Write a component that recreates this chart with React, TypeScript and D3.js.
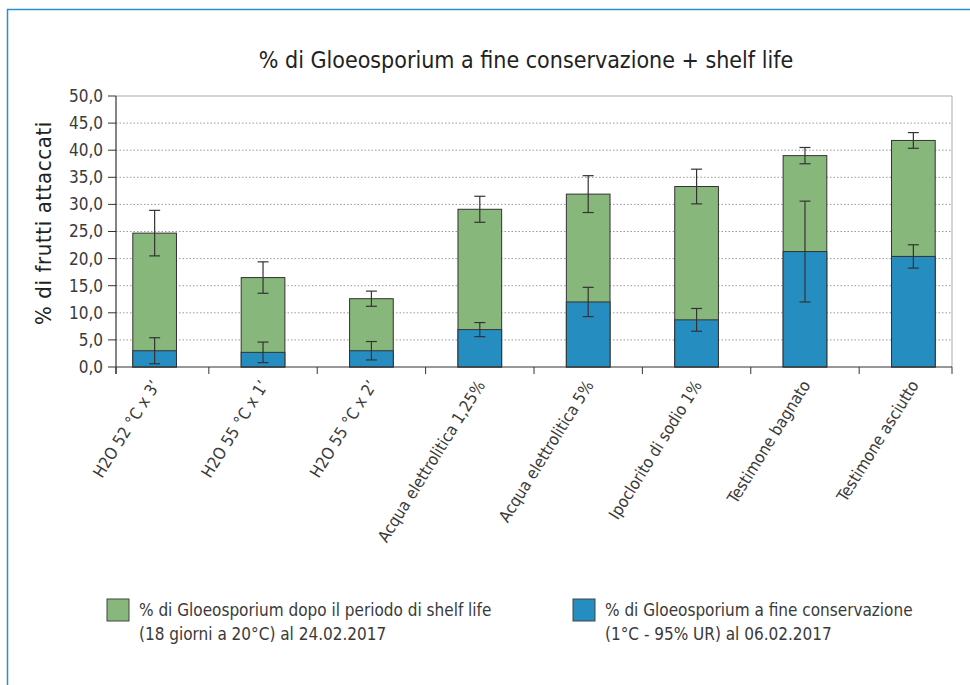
import React from "react";
import * as d3 from "d3";

const categories = [
  "H2O 52 °C x 3’",
  "H2O 55 °C x 1’",
  "H2O 55 °C x 2’",
  "Acqua elettrolitica 1,25%",
  "Acqua elettrolitica 5%",
  "Ipoclorito di sodio 1%",
  "Testimone bagnato",
  "Testimone asciutto",
];
// % a fine conservazione (blue, bottom)
const conservazione = [3.0, 2.7, 3.0, 6.9, 12.0, 8.7, 21.3, 20.4];
const errConservazione = [2.4, 1.9, 1.7, 1.3, 2.7, 2.1, 9.3, 2.15];
// % dopo shelf life (total height of the stack)
const shelfLife = [24.7, 16.5, 12.6, 29.1, 31.9, 33.3, 39.0, 41.8];
const errShelfLife = [4.2, 2.9, 1.4, 2.4, 3.4, 3.2, 1.5, 1.45];
const yTicks = [0, 5, 10, 15, 20, 25, 30, 35, 40, 45, 50];

const legendItems = [
  { color: "#88b77b", lines: ["% di Gloeosporium dopo il periodo di shelf life", "(18 giorni a 20°C) al 24.02.2017"] },
  { color: "#268dc1", lines: ["% di Gloeosporium a fine conservazione", "(1°C - 95% UR) al 06.02.2017"] },
];

const FONT = "'Liberation Sans Narrow', 'DejaVu Sans Condensed', 'Roboto', sans-serif";
const GREEN = "#88b77b";
const BLUE = "#268dc1";
const INK = "#333";
const TEXT = "#3a3a3a";

export default function App() {
  const left = 116, right = 952, top = 96, bottom = 367;

  const x = d3.scaleBand<string>()
    .domain(categories)
    .range([left, right])
    .paddingInner(0.597)
    .paddingOuter(0.155);
  const y = d3.scaleLinear().domain([0, 50]).range([bottom, top]);
  const bw = x.bandwidth();
  const step = x.step();
  const cx = (c: string) => (x(c) as number) + bw / 2;

  // category separator ticks between bars, plus the axis ends
  const sepTicks = [left, ...categories.slice(1).map((c) => cx(c) - step / 2), right];

  const errBar = (c: string, v: number, e: number, key: string) => {
    const xc = cx(c);
    return (
      <g key={key} stroke={INK} strokeWidth={1.2}>
        <line x1={xc} x2={xc} y1={y(v + e)} y2={y(Math.max(0, v - e))} />
        <line x1={xc - 5.5} x2={xc + 5.5} y1={y(v + e)} y2={y(v + e)} />
        <line x1={xc - 5.5} x2={xc + 5.5} y1={y(Math.max(0, v - e))} y2={y(Math.max(0, v - e))} />
      </g>
    );
  };

  return (
    <svg width={970} height={685} style={{ position: "absolute", left: 0, top: 0, background: "#fff" }} fontFamily={FONT}>
      {/* frame */}
      <line x1={7} x2={970} y1={9.5} y2={9.5} stroke="#2a8fcf" strokeWidth={1.5} />
      <line x1={7.5} x2={7.5} y1={9} y2={685} stroke="#2a8fcf" strokeWidth={1.5} />

      <text x={526} y={68} textAnchor="middle" fontSize={23} fill="#222">
        % di Gloeosporium a fine conservazione + shelf life
      </text>

      {/* gridlines */}
      {yTicks.filter((t) => t > 0 && t < 50).map((t) => (
        <line key={t} x1={left} x2={right} y1={y(t)} y2={y(t)} stroke="#999" strokeWidth={1} strokeDasharray="1.5,2" />
      ))}
      <line x1={left} x2={right} y1={y(50)} y2={y(50)} stroke="#aaa" strokeWidth={1} />
      <line x1={right} x2={right} y1={y(50)} y2={bottom} stroke="#aaa" strokeWidth={1} />

      {/* bars */}
      {categories.map((c, i) => (
        <g key={c}>
          <rect x={x(c)} y={y(shelfLife[i])} width={bw} height={bottom - y(shelfLife[i])} fill={GREEN} stroke={INK} strokeWidth={1} />
          <rect x={x(c)} y={y(conservazione[i])} width={bw} height={bottom - y(conservazione[i])} fill={BLUE} stroke={INK} strokeWidth={1} />
        </g>
      ))}
      {categories.map((c, i) => errBar(c, shelfLife[i], errShelfLife[i], "s" + i))}
      {categories.map((c, i) => errBar(c, conservazione[i], errConservazione[i], "c" + i))}

      {/* y axis */}
      <line x1={left} x2={left} y1={top} y2={bottom + 7} stroke={INK} strokeWidth={1.2} />
      {yTicks.map((t) => (
        <g key={t}>
          <line x1={left - 8} x2={left} y1={y(t)} y2={y(t)} stroke={INK} strokeWidth={1} />
          <text x={left - 13} y={y(t)} dy="0.35em" textAnchor="end" fontSize={17} fill={TEXT}>
            {d3.format(".1f")(t).replace(".", ",")}
          </text>
        </g>
      ))}
      <text transform={`translate(51,223) rotate(-90)`} textAnchor="middle" fontSize={22} fill="#222" letterSpacing={0.6}>
        % di frutti attaccati
      </text>

      {/* x axis */}
      <line x1={left} x2={right} y1={bottom} y2={bottom} stroke={INK} strokeWidth={1.2} />
      {sepTicks.map((t, i) => (
        <line key={i} x1={t} x2={t} y1={bottom} y2={bottom + 7} stroke={INK} strokeWidth={1} />
      ))}
      {categories.map((c) => (
        <text key={c} transform={`translate(${cx(c) + 6},${bottom + 18}) rotate(-58)`} textAnchor="end" fontSize={16.5} fill={TEXT}>
          {c}
        </text>
      ))}

      {/* legend */}
      {legendItems.map((item, i) => {
        const lx = i === 0 ? 107 : 573;
        return (
          <g key={i}>
            <rect x={lx} y={599} width={22} height={22} fill={item.color} stroke="#444" strokeWidth={1} />
            {item.lines.map((l, j) => (
              <text key={j} x={lx + 32} y={616 + j * 24} fontSize={17} fill={TEXT}>
                {l}
              </text>
            ))}
          </g>
        );
      })}
    </svg>
  );
}
